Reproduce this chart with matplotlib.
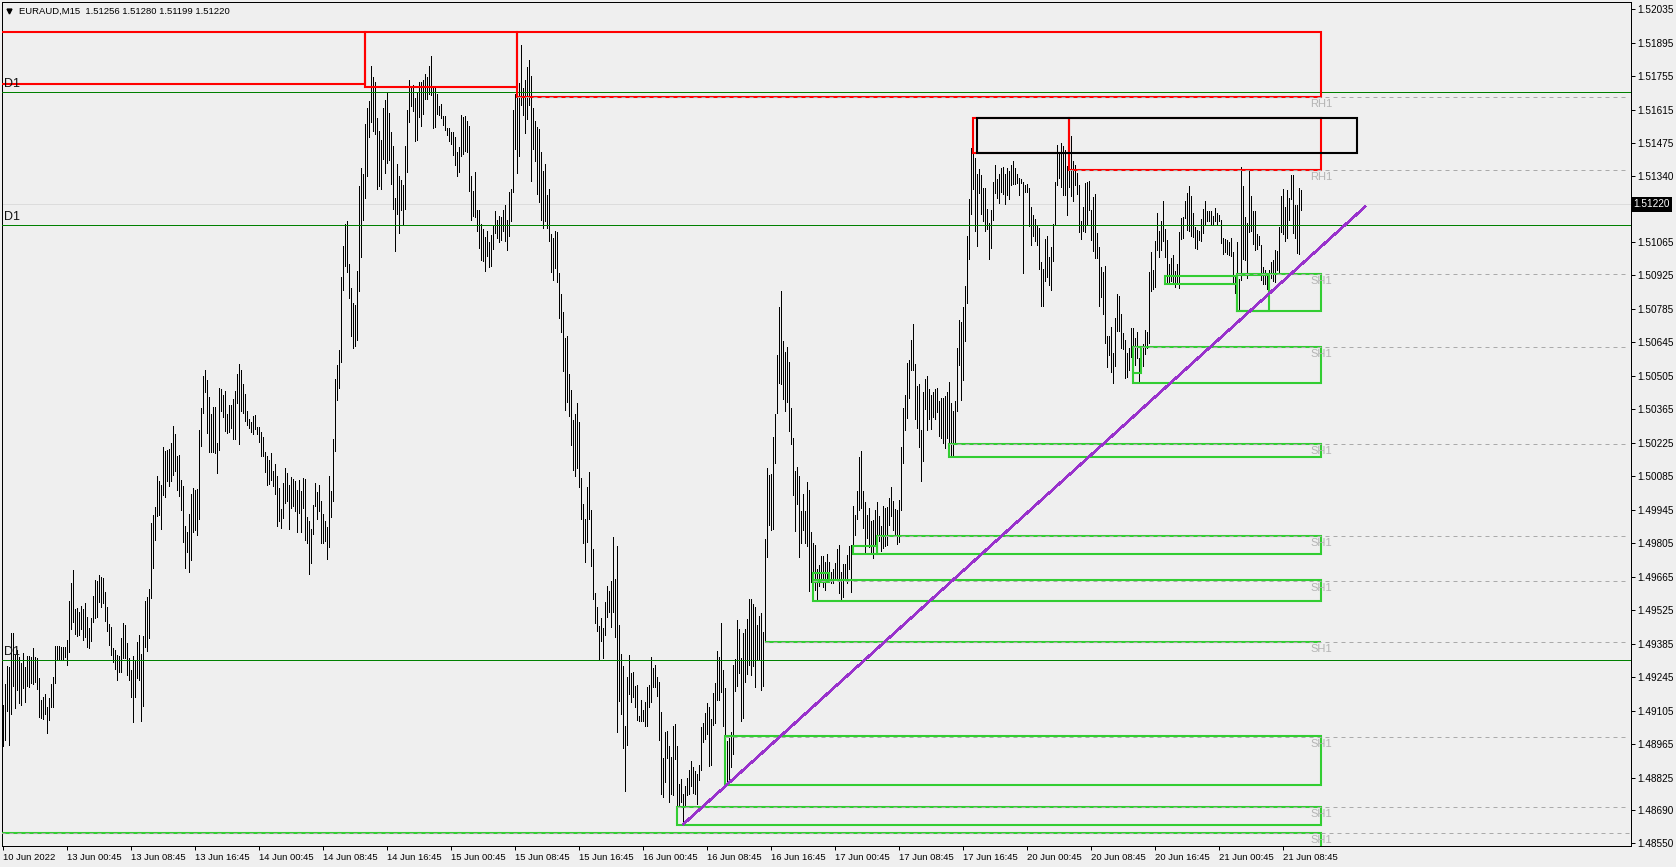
import numpy as np
import matplotlib
matplotlib.use("Agg")
import matplotlib.pyplot as plt
from matplotlib.patches import Rectangle

FONT = "Liberation Sans"
BG = "#efefef"

# prices in 1e-5 units, one value per 15 min bar
bar_high = [
149128,149216,149291,149288,149429,149429,149337,149358,149327,149305,
149345,149288,149333,149333,149329,149366,149329,149323,149241,149149,
149161,149174,149120,149157,149216,149245,149375,149375,149375,149370,
149370,149370,149400,149563,149638,149692,149529,149533,149517,149542,
149529,149554,149496,149450,149492,149584,149650,149646,149671,149663,
149659,149600,149538,149467,149454,149366,149358,149337,149333,149408,
149471,149462,149387,149324,149274,149333,149316,149391,149421,149341,
149416,149563,149579,149613,149889,149922,149956,150085,150064,150048,
150206,150190,150194,150198,150223,150294,150261,150169,150173,150069,
150043,149876,149851,149926,150010,150035,150027,150031,150277,150369,
150503,150528,150486,150415,150344,150374,150374,150223,150453,150449,
150424,150441,150344,150382,150382,150407,150441,150512,150553,150528,
150470,150428,150357,150323,150311,150336,150340,150290,150290,150269,
150248,150186,150169,150152,150181,150106,150135,150085,150035,149947,
150056,150119,150098,150048,150081,150073,150064,150027,150069,150023,
150077,150073,149914,149897,149864,149964,150056,150018,150048,149981,
149926,149897,149872,150085,150023,150240,150491,150549,150612,150917,
151046,151138,151151,150971,150871,150808,150800,150942,151297,151372,
151347,151556,151623,151652,151798,151752,151731,151581,151527,151489,
151623,151656,151690,151602,151523,151464,151247,151389,151339,151322,
151301,151464,151614,151740,151706,151719,151665,151690,151731,151731,
151740,151765,151752,151798,151840,151706,151706,151681,151631,151640,
151589,151589,151539,151539,151523,151523,151502,151439,151460,151594,
151585,151589,151568,151548,151339,151276,151355,151197,151197,151138,
151117,151084,151109,151063,151092,151130,151192,151155,151171,151167,
151197,151217,151155,151272,151284,151614,151681,151727,151727,151886,
151706,151740,151794,151823,151757,151623,151568,151543,151535,151439,
151360,151389,151259,151284,151096,151080,151109,151105,150932,150844,
150770,150663,150672,150510,150445,150318,150343,150389,150310,150077,
149967,149905,150038,150100,149942,149780,149596,149537,149457,149491,
149449,149557,149627,149604,149646,149830,149655,149792,149462,149343,
149290,149039,149245,149336,149261,149265,149207,149211,149081,149151,
149109,149140,149202,149211,149329,149282,149295,149245,149224,149098,
148907,149015,149020,148956,148910,149039,149049,148956,148797,148819,
148755,148789,148822,148855,148894,148870,148851,148840,148877,149035,
149052,149094,149135,149118,149069,149177,149219,149353,149329,149471,
149274,149199,148978,148990,149015,149295,149319,149483,149445,149324,
149429,149445,149486,149571,149571,149550,149537,149462,149500,149513,
149432,149822,150118,150089,150093,150248,150344,150591,150791,150858,
150649,150603,150624,150561,150369,150244,150106,150123,150085,149939,
150010,149939,150060,150026,149851,149805,149797,149696,149713,149751,
149751,149726,149759,149726,149684,149696,149721,149780,149797,149684,
149717,149717,149755,149792,149797,149959,149922,150022,150164,150189,
150022,149976,149922,149951,149897,149901,149943,149976,149918,149876,
149959,149951,149955,149993,150039,149980,149947,149943,149985,150206,
150369,150423,150557,150570,150653,150720,150553,150461,150469,150277,
150436,150490,150503,150448,150423,150436,150448,150453,150398,150411,
150411,150419,150436,150478,150390,150357,150398,150620,150737,150729,
150791,150879,151088,151243,151456,151435,151414,151347,151368,151343,
151289,151289,151201,151142,151197,151314,151385,151326,151347,151372,
151376,151347,151372,151360,151385,151401,151372,151347,151330,151326,
151314,151301,151305,151289,151209,151176,151159,151130,151121,150979,
150950,151075,151088,151000,151042,151138,151314,151468,151439,151477,
151464,151447,151381,151422,151506,151401,151385,151351,151301,151151,
151209,151310,151314,151318,151197,151251,151264,151101,151042,150958,
150938,150963,150670,150670,150708,150599,150745,150846,150837,150762,
150683,150653,150599,150620,150704,150704,150662,150687,150578,150625,
150637,150695,150687,150938,151021,150946,151067,151184,151109,151151,
151234,151117,151071,150971,150996,151009,150942,150971,151105,151163,
151167,151234,151268,151297,151255,151184,151126,151113,151109,151159,
151201,151234,151193,151193,151193,151172,151205,151184,151176,151155,
151080,151076,151071,151063,151080,151021,150925,151063,150908,151375,
151297,151167,151141,151360,151255,151193,151193,151096,151088,151050,
150959,150946,150925,150946,150979,150988,151030,151025,151126,151255,
151284,151209,151280,151247,151343,151343,151218,151218,151289,151280,
]
bar_low = [
148958,148983,149104,148962,149092,149209,149117,149191,149138,149129,
149199,149142,149209,149205,149219,149216,149226,149195,149079,149075,
149071,149092,149012,149067,149120,149120,149221,149316,149316,149316,
149316,149329,149295,149350,149446,149474,149425,149416,149421,149446,
149400,149412,149370,149366,149396,149475,149492,149496,149558,149538,
149554,149479,149437,149379,149337,149308,149278,149233,149266,149266,
149324,149324,149253,149233,149161,149057,149161,149241,149233,149061,
149124,149370,149354,149408,149575,149702,149818,149918,149922,149864,
150006,149998,150064,150043,150064,150089,150106,150027,150002,149943,
149809,149701,149768,149684,149734,149851,149860,149839,149906,150211,
150349,150436,150265,150186,150186,150186,150181,150098,150194,150357,
150332,150273,150265,150269,150286,150240,150240,150390,150219,150357,
150349,150315,150298,150286,150269,150261,150282,150261,150227,150169,
150169,150102,150048,150052,150069,150043,150010,149876,149897,149868,
149910,149972,149981,149864,149952,149960,149939,149851,149931,149851,
149952,149818,149805,149676,149722,149843,149960,149906,149939,149805,
149805,149814,149738,149789,149914,149981,150190,150403,150453,150562,
150863,150963,150938,150829,150670,150620,150629,150654,150858,151000,
151155,151247,151339,151502,151564,151527,151514,151284,151297,151284,
151410,151351,151393,151405,151305,151201,151025,151180,151100,151197,
151134,151201,151355,151564,151631,151610,151485,151489,151585,151548,
151598,151660,151660,151681,151677,151539,151543,151598,151594,151581,
151552,151531,151510,151485,151472,151426,151385,151339,151355,151422,
151431,151443,151439,151276,151155,151171,151167,151109,151038,150988,
150983,150942,151004,150958,150963,151034,151100,151080,151063,151071,
151109,151067,151029,151088,151151,151272,151451,151351,151422,151635,
151594,151518,151577,151635,151318,151451,151401,151263,151230,151155,
151121,151151,151121,151067,150937,150904,150954,150896,150746,150686,
150524,150361,150394,150337,150215,150109,150086,150119,150038,149905,
149805,149726,149809,149905,149709,149571,149471,149438,149315,149395,
149324,149420,149496,149516,149454,149516,149412,149015,149145,149091,
148948,148767,148961,149174,149142,149162,149118,149064,149063,149063,
149063,149039,149039,149118,149142,149203,149203,149165,148981,148758,
148744,148808,148907,148723,148758,148754,148902,148706,148709,148721,
148630,148706,148752,148757,148789,148760,148757,148713,148814,148855,
148973,148985,149006,148873,148877,149044,149052,149148,149148,149182,
149039,148998,148798,148794,148868,148922,149185,149207,149261,149061,
149074,149224,149258,149295,149253,149290,149203,149316,149316,149190,
149207,149395,149746,149880,149859,149863,150139,150347,150474,150469,
150407,150357,150394,150273,150219,150006,149855,149968,149746,149805,
149859,149805,149792,149604,149642,149650,149608,149567,149625,149650,
149621,149608,149650,149646,149638,149638,149650,149650,149596,149571,
149579,149654,149638,149696,149600,149792,149838,149905,149943,149951,
149868,149759,149826,149788,149763,149742,149792,149838,149813,149771,
149784,149792,149797,149880,149918,149859,149838,149801,149809,149943,
150139,150277,150327,150411,150528,150528,150323,150285,150206,150064,
150148,150365,150277,150323,150281,150331,150323,150352,150252,150244,
150223,150202,150244,150223,150173,150168,150227,150357,150549,150403,
150486,150649,150808,150990,151180,151284,151109,151046,151268,151180,
151151,151109,151117,150990,151038,151155,151268,151247,151226,151272,
151264,151222,151259,151243,151301,151305,151305,151310,151259,151310,
150933,151272,151272,151130,151050,151088,151067,151050,150950,150795,
150795,150900,150917,150883,150862,150984,151134,151301,151330,151293,
151259,151259,151176,151293,151255,151234,151301,151264,151105,151075,
151109,151105,151138,151197,151071,151025,150996,150996,150795,150833,
150762,150641,150541,150591,150520,150474,150545,150691,150691,150620,
150616,150495,150499,150528,150582,150616,150549,150578,150478,150514,
150545,150595,150620,150641,150858,150867,150875,151030,151000,151030,
151067,151000,150892,150887,150900,150887,150875,150887,150871,151076,
151080,151163,151113,151109,151088,151084,151038,151034,151071,151067,
151101,151134,151151,151151,151138,151134,151151,151138,151151,151059,
151013,151021,151013,151009,151005,150887,150850,150862,150779,150904,
150992,150988,150913,151105,151109,151055,151030,151034,151050,150904,
150887,150887,150867,150862,150913,150900,150896,150946,150929,151105,
151096,151067,151080,151155,151243,151101,151080,151017,151013,151197,
]

price_ticks = [152035, 151895, 151755, 151615, 151475, 151340, 151065, 150925,
               150785, 150645, 150505, 150365, 150225, 150085, 149945, 149805, 149665,
               149525, 149385, 149245, 149105, 148965, 148825, 148690, 148550]
time_labels = ["10 Jun 2022", "13 Jun 00:45", "13 Jun 08:45", "13 Jun 16:45", "14 Jun 00:45",
               "14 Jun 08:45", "14 Jun 16:45", "15 Jun 00:45", "15 Jun 08:45", "15 Jun 16:45",
               "16 Jun 00:45", "16 Jun 08:45", "16 Jun 16:45", "17 Jun 00:45", "17 Jun 08:45",
               "17 Jun 16:45", "20 Jun 00:45", "20 Jun 08:45", "20 Jun 16:45", "21 Jun 00:45",
               "21 Jun 08:45"]
bars_per_label = 32

last_price = 151220
header = "EURAUD,M15  1.51256 1.51280 1.51199 1.51220"

d1_levels = [151689, 151133, 149315]
rh_levels = [151667, 151362]
rh_starts = [257, 533]
sh_levels = [150928, 150623, 150218, 149834, 149647, 149393, 148996, 148700, 148592]
sh_starts = [617, 565, 473, 437, 405, 381, 361, 337, -1]

# zones: first bar, last bar, top, bottom
red_zones = [(-1, 181, 151941, 151723), (181, 257, 151941, 151711), (257, 659, 151941, 151669),
             (485, 533, 151583, 151436), (533, 659, 151583, 151364)]
green_zones = [(617, 659, 150928, 150776), (617, 633, 150925, 150776), (581, 617, 150922, 150889),
               (565, 659, 150624, 150475), (565, 569, 150624, 150517), (473, 659, 150220, 150164),
               (437, 659, 149836, 149759), (425, 437, 149794, 149759), (405, 659, 149650, 149563),
               (405, 413, 149681, 149643), (381, 659, 149393, 149393), (361, 659, 148999, 148794),
               (337, 659, 148701, 148627), (-1, 659, 148593, 148480)]
black_zone = (487, 677, 151581, 151436)
trend_bars = [340.3, 681]
trend_prices = [148631, 151210]

x = np.arange(len(bar_high))
high = np.array(bar_high)
low = np.array(bar_low)

fig = plt.figure(figsize=(16.76, 8.67), dpi=100, facecolor=BG)
ax = fig.add_axes([2 / 1676, 1 - 846 / 867, 1628.7 / 1676, 844 / 867], facecolor=BG)
ax.set_xlim(-0.5, 813.85)
ax.set_ylim(152035 - 4.179 * (846 - 9.4), 152035 + 4.179 * 7.4)

ax.axhline(last_price, color="#dcdcdc", lw=0.72, zorder=1)
ax.vlines(x, low, high, color="black", lw=0.55, antialiased=False, zorder=2)

for level in d1_levels:
    ax.axhline(level, color="#008000", lw=0.72, zorder=3)
    ax.text(0.5, level + 34, "D1", fontfamily=FONT, fontsize=9, color="#111111", va="center", zorder=6)

for zone in green_zones:
    ax.add_patch(Rectangle((zone[0], zone[3]), zone[1] - zone[0], zone[2] - zone[3], fill=False,
                           ec="#32cd32", lw=1.5, zorder=4))
for zone in red_zones:
    ax.add_patch(Rectangle((zone[0], zone[3]), zone[1] - zone[0], zone[2] - zone[3], fill=False,
                           ec="#ff0000", lw=1.5, zorder=4))

for level, start in zip(rh_levels + sh_levels, rh_starts + sh_starts):
    ax.plot([start, 813], [level, level], color="#aaaaaa", lw=0.72, dashes=(4, 4), zorder=4.5)

ax.add_patch(Rectangle((black_zone[0], black_zone[3]), black_zone[1] - black_zone[0],
                       black_zone[2] - black_zone[3], fill=False, ec="black", lw=1.5, zorder=5))
ax.plot(trend_bars, trend_prices, color="#9932cc", lw=1.15, antialiased=False, zorder=5)

for level in rh_levels:
    ax.text(653.5, level - 28, "RH1", fontfamily=FONT, fontsize=8, color="#b4b4b4", ha="left", va="center", zorder=6)
for level in sh_levels:
    ax.text(653.5, level - 29, "SH1", fontfamily=FONT, fontsize=8, color="#b4b4b4", ha="left", va="center", zorder=6)

ax.text(8, 152035 + 4.179 * (9.4 - 11), header, fontfamily=FONT, fontsize=6.8, color="black", va="center", zorder=6)
ax.plot([3.2], [152035 + 4.179 * (9.4 - 11)], marker="v", ms=3.5, color="black", zorder=6, clip_on=False)

ax.set_xticks(np.arange(len(time_labels)) * bars_per_label)
ax.set_xticklabels(time_labels, fontfamily=FONT, fontsize=6.8, ha="left")
ax.tick_params(axis="x", length=3, width=0.72, pad=2, color="black")

ax.yaxis.tick_right()
ax.set_yticks(price_ticks)
ax.set_yticklabels([f"{p / 1e5:.5f}" for p in price_ticks], fontfamily=FONT, fontsize=7.2)
ax.tick_params(axis="y", length=3, width=0.72, pad=1.5, color="black")

ax.text(1.0015, last_price, f"{last_price / 1e5:.5f}", transform=ax.get_yaxis_transform(),
        fontfamily=FONT, fontsize=7.2, color="white", va="center", ha="left", zorder=7,
        bbox=dict(facecolor="black", edgecolor="none", pad=1.5), clip_on=False)

for spine in ax.spines.values():
    spine.set_linewidth(0.72)
    spine.set_color("black")

fig.savefig("out.png", dpi=100, facecolor=BG)
